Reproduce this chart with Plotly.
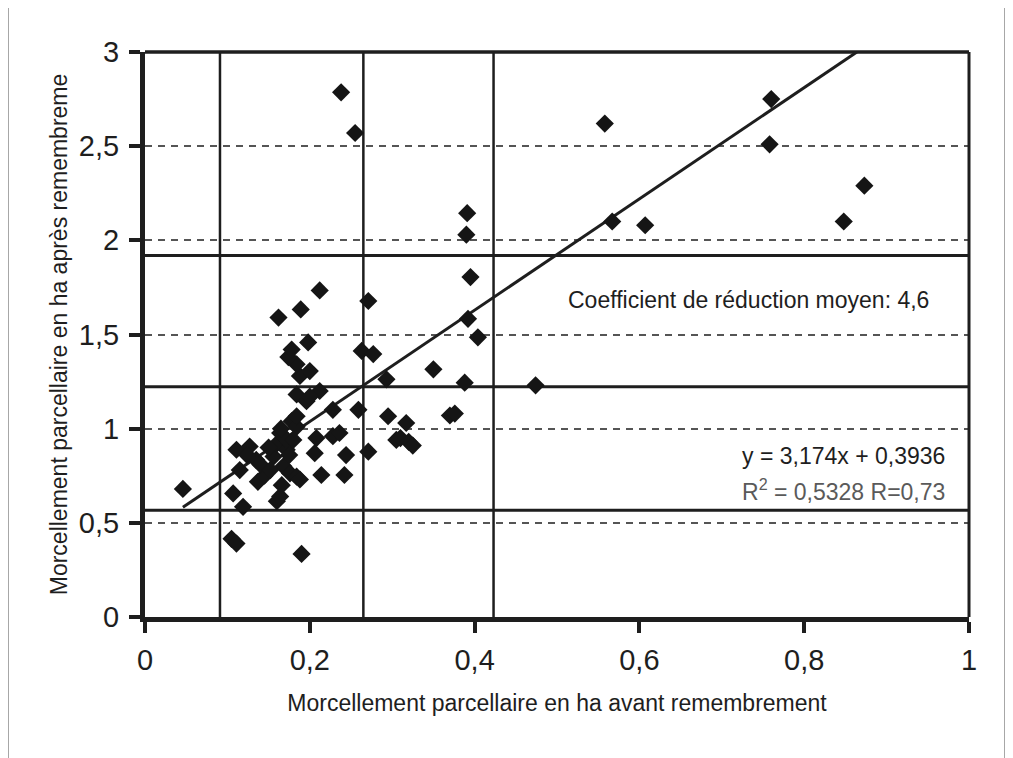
import plotly.graph_objects as go

# Morcellement parcellaire (ha) avant / après remembrement
avant = [0.046, 0.105, 0.111, 0.190, 0.107, 0.119, 0.160, 0.164, 0.111, 0.127,
         0.135, 0.115, 0.137, 0.145, 0.156, 0.160, 0.164, 0.168, 0.172, 0.176,
         0.184, 0.188, 0.178, 0.184, 0.184, 0.170, 0.150, 0.184, 0.196, 0.212,
         0.188, 0.200, 0.184, 0.174, 0.178, 0.198, 0.162, 0.189, 0.212, 0.271,
         0.263, 0.277, 0.293, 0.259, 0.228, 0.208, 0.228, 0.236, 0.206, 0.244,
         0.271, 0.214, 0.242, 0.295, 0.317, 0.305, 0.310, 0.320, 0.325, 0.350,
         0.370, 0.376, 0.388, 0.474, 0.392, 0.404, 0.395, 0.390, 0.391, 0.238,
         0.255, 0.558, 0.567, 0.607, 0.760, 0.758, 0.873, 0.848, 0.124, 0.140,
         0.152, 0.166, 0.175, 0.180, 0.165, 0.200]
apres = [0.680, 0.415, 0.390, 0.335, 0.656, 0.585, 0.615, 0.640, 0.888, 0.905,
         0.834, 0.780, 0.718, 0.750, 0.852, 0.920, 0.977, 0.800, 0.888, 0.763,
         0.745, 0.730, 1.040, 1.010, 1.066, 0.950, 0.900, 1.182, 1.146, 1.200,
         1.280, 1.306, 1.342, 1.380, 1.420, 1.458, 1.590, 1.633, 1.734, 1.678,
         1.413, 1.396, 1.262, 1.100, 1.100, 0.950, 0.960, 0.977, 0.870, 0.860,
         0.878, 0.754, 0.754, 1.066, 1.030, 0.940, 0.950, 0.930, 0.910, 1.315,
         1.070, 1.080, 1.244, 1.230, 1.583, 1.485, 1.805, 2.030, 2.144, 2.786,
         2.570, 2.620, 2.100, 2.080, 2.750, 2.510, 2.290, 2.100, 0.860, 0.810,
         0.780, 0.700, 0.860, 0.940, 1.000, 1.170]

# reference lines (mean and mean +/- standard deviation)
vlines_x = [0.091, 0.265, 0.423]
hlines_y = [0.567, 1.222, 1.920]

# trend line as drawn on the chart
trend_slope = 2.955
trend_intercept = 0.447

x_ticks = [0, 0.2, 0.4, 0.6, 0.8, 1]
x_ticktext = ['0', '0,2', '0,4', '0,6', '0,8', '1']
y_ticks = [0, 0.5, 1, 1.5, 2, 2.5, 3]
y_ticktext = ['0', '0,5', '1', '1,5', '2', '2,5', '3']

FONT = 'Arial, Liberation Sans, sans-serif'
INK = '#1e1e1e'

# the page body adds an 8px margin, so the figure is 8px smaller than the window
OFF = 8
W, H = 1013 - OFF, 758 - OFF
ML, MR, MT, MB = 145 - OFF, 44, 52 - OFF, 141

fig = go.Figure()

for v in vlines_x:
    fig.add_trace(go.Scatter(x=[v, v], y=[0, 3], mode='lines',
                             line=dict(color=INK, width=2.5), hoverinfo='skip'))
for h in hlines_y:
    fig.add_trace(go.Scatter(x=[0, 1], y=[h, h], mode='lines',
                             line=dict(color=INK, width=3), hoverinfo='skip'))

x_start = min(avant)
x_end = (3 - trend_intercept) / trend_slope
fig.add_trace(go.Scatter(x=[x_start, x_end],
                         y=[trend_slope * x_start + trend_intercept, 3],
                         mode='lines', line=dict(color=INK, width=3)))

fig.add_trace(go.Scatter(x=avant, y=apres, mode='markers',
                         marker=dict(symbol='diamond', size=14, color='#151515',
                                     line=dict(width=0))))

# text boxes
fig.add_annotation(x=0.733, y=1.683, text='Coefficient de réduction moyen: 4,6',
                   showarrow=False, font=dict(size=23, color=INK))
fig.add_annotation(x=0.973, y=0.855, text='y = 3,174x + 0,3936', xanchor='right',
                   showarrow=False, font=dict(size=23, color=INK))
fig.add_annotation(x=0.973, y=0.672, text='R<sup>2</sup> = 0,5328 R=0,73', xanchor='right',
                   showarrow=False, font=dict(size=23, color='#5a5a5a'))


def px(xp):
    return (xp - OFF - ML) / (W - ML - MR)


def py(yp):
    return (H + OFF - MB - yp) / (H - MT - MB)


# top and right borders of the plot area
fig.add_shape(type='line', xref='paper', yref='paper', x0=0, x1=1, y0=1, y1=1,
              line=dict(color=INK, width=3.5))
fig.add_shape(type='line', xref='paper', yref='paper', x0=1, x1=1, y0=0, y1=1,
              line=dict(color=INK, width=3))
# outer frame of the figure
fig.add_shape(type='rect', xref='paper', yref='paper',
              x0=px(8), x1=px(1005), y0=py(6), y1=py(780),
              line=dict(color='#8a8a8a', width=1.5))

fig.update_layout(
    width=W, height=H,
    margin=dict(l=ML, r=MR, t=MT, b=MB),
    plot_bgcolor='white', paper_bgcolor='white',
    showlegend=False,
    font=dict(family=FONT, color=INK),
    xaxis=dict(
        range=[0, 1], tickmode='array', tickvals=x_ticks, ticktext=x_ticktext,
        showgrid=False, zeroline=False,
        showline=True, linewidth=5, linecolor=INK,
        ticks='outside', ticklen=11, tickwidth=4, tickcolor=INK,
        tickfont=dict(size=29), ticklabelstandoff=2,
        title=dict(text='Morcellement parcellaire en ha avant remembrement',
                   font=dict(size=23), standoff=22),
    ),
    yaxis=dict(
        range=[0, 3], tickmode='array', tickvals=y_ticks, ticktext=y_ticktext,
        showgrid=True, gridcolor='#555555', gridwidth=1.5, griddash='7px,6px',
        zeroline=False,
        showline=True, linewidth=5, linecolor=INK,
        ticks='outside', ticklen=11, tickwidth=4, tickcolor=INK,
        tickfont=dict(size=29), ticklabelstandoff=4,
        title=dict(text='Morcellement parcellaire en ha après remembreme',
                   font=dict(size=23), standoff=6),
    ),
)

fig.write_html('out.html')
